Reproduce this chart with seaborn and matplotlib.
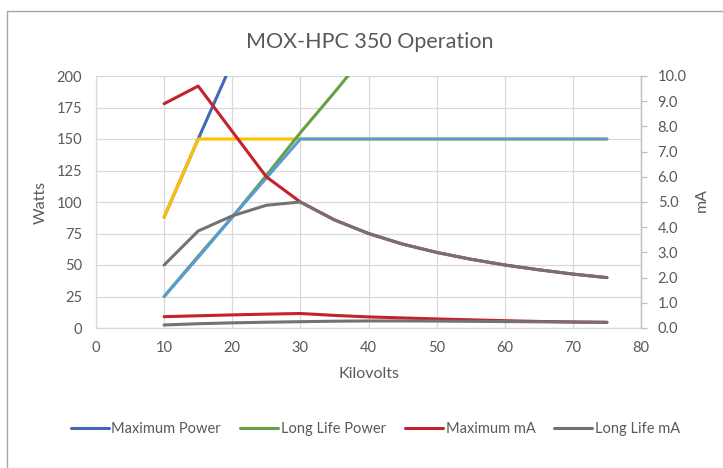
import numpy as np
import matplotlib
matplotlib.use("Agg")
import matplotlib.pyplot as plt
import seaborn as sns
from matplotlib.patches import Rectangle

# ---------------- data ----------------
kv = [10, 15, 20, 25, 30, 35, 40, 45, 50, 55, 60, 65, 70, 75]

# primary axis (Watts)
max_power_kv = [10, 15, 20]
max_power = [88, 150, 211]                      # Maximum Power (runs off the top)
max_power_capped = [88, 150, 150, 150, 150, 150, 150, 150, 150, 150, 150, 150, 150, 150]
long_life_power_kv = [10, 15, 20, 25, 30, 35, 40]
long_life_power = [25, 57, 88, 121, 155, 187, 220]   # Long Life Power (runs off the top)
long_life_capped = [25, 56, 88, 119, 150, 150, 150, 150, 150, 150, 150, 150, 150, 150]
low_red = [9.0, 9.7, 10.4, 11.0, 11.5, 10.0, 8.8, 8.0, 7.2, 6.5, 5.8, 5.2, 4.8, 4.5]
low_gray = [2.4, 3.4, 4.1, 4.6, 5.0, 5.4, 5.6, 5.6, 5.5, 5.3, 5.1, 4.9, 4.7, 4.5]

# secondary axis (mA)
max_ma = [8.9, 9.6, 7.8, 6.0, 5.0, 4.29, 3.75, 3.33, 3.0, 2.73, 2.5, 2.31, 2.14, 2.0]
long_life_ma = [2.5, 3.85, 4.45, 4.87, 5.0, 4.29, 3.75, 3.33, 3.0, 2.73, 2.5, 2.31, 2.14, 2.0]

x_ticks = [0, 10, 20, 30, 40, 50, 60, 70, 80]
w_ticks = [0, 25, 50, 75, 100, 125, 150, 175, 200]
ma_ticks = [0, 1, 2, 3, 4, 5, 6, 7, 8, 9, 10]

title = "MOX-HPC 350 Operation"

# ---------------- style ----------------
sns.set_style("white")
plt.rcParams['font.family'] = ['Lato', 'DejaVu Sans']
TXT = "#595959"
GRID = "#D9D9D9"
C_BLUE = "#4069B9"
C_GREEN = "#65A142"
C_RED = "#C4212B"
C_GRAY = "#767171"
C_YEL = "#FFC000"
C_LBLUE = "#5B9BD5"
LW = 2.2

W, H = 723, 468
fig = plt.figure(figsize=(W / 100, H / 100), dpi=100)
fig.patch.set_facecolor("white")
L, R, T, B = 96, 641, 76, 328
ax = fig.add_axes([L / W, 1 - B / H, (R - L) / W, (B - T) / H])
ax2 = ax.twinx()

# primary axis lines
sns.lineplot(x=max_power_kv, y=max_power, ax=ax, color=C_BLUE, lw=LW, label="Maximum Power")
sns.lineplot(x=kv, y=max_power_capped, ax=ax, color=C_YEL, lw=LW, legend=False)
sns.lineplot(x=long_life_power_kv, y=long_life_power, ax=ax, color=C_GREEN, lw=LW, label="Long Life Power")
sns.lineplot(x=kv, y=long_life_capped, ax=ax, color=C_LBLUE, lw=LW, legend=False)
sns.lineplot(x=kv, y=low_red, ax=ax, color=C_RED, lw=LW, legend=False)
sns.lineplot(x=kv, y=low_gray, ax=ax, color=C_GRAY, lw=LW, legend=False)

# secondary axis lines
sns.lineplot(x=kv, y=max_ma, ax=ax2, color=C_RED, lw=LW, label="Maximum mA")
sns.lineplot(x=kv, y=long_life_ma, ax=ax2, color=C_GRAY, lw=LW, label="Long Life mA")

for a in (ax, ax2):
    if a.get_legend() is not None:
        a.get_legend().remove()

ax.set_xlim(0, 80)
ax.set_ylim(0, 200)
ax2.set_ylim(0, 10)
ax.set_xticks(x_ticks)
ax.set_yticks(w_ticks)
ax2.set_yticks(ma_ticks)
ax2.set_yticklabels([f"{v:.1f}" for v in ma_ticks])
ax.set_xticklabels([str(v) for v in x_ticks])
ax.set_yticklabels([str(v) for v in w_ticks])

ax.grid(True, color=GRID, lw=0.9)
ax.set_axisbelow(True)
ax2.grid(False)
for a in (ax, ax2):
    for s in a.spines.values():
        s.set_color(GRID)
        s.set_linewidth(0.9)
    a.spines['top'].set_visible(False)
ax2.spines['right'].set_color("#BFBFBF")
ax2.spines['left'].set_visible(False)
ax2.spines['bottom'].set_visible(False)

FS = 10.5
ax.tick_params(axis='x', length=0, pad=9, labelsize=FS, labelcolor=TXT)
ax.tick_params(axis='y', length=0, pad=10, labelsize=FS, labelcolor=TXT)
ax2.tick_params(axis='y', length=4, width=0.9, color="#BFBFBF", direction='out', pad=8,
                labelsize=FS, labelcolor=TXT)
ax.set_xlabel("")
ax.set_ylabel("")
ax2.set_ylabel("")

fig.text(370 / W, 1 - 48 / H, title, ha='center', va='baseline', fontsize=15.5, color=TXT)
fig.text(41 / W, 1 - 202 / H, "Watts", ha='center', va='center', rotation=90, fontsize=11.5, color=TXT)
fig.text(702 / W, 1 - 200 / H, "mA", ha='center', va='center', rotation=90, fontsize=11.5, color=TXT)
fig.text(368.5 / W, 1 - 374 / H, "Kilovolts", ha='center', va='center', fontsize=11.5, color=TXT)

h1, l1 = ax.get_legend_handles_labels()
h2, l2 = ax2.get_legend_handles_labels()
fig.legend(h1 + h2, l1 + l2, loc='center', bbox_to_anchor=(375.5 / W, 1 - 429 / H), ncol=4,
           frameon=False, fontsize=FS, labelcolor=TXT, handlelength=2.6, handletextpad=0.2,
           columnspacing=1.3)

# chart-area border (only top and left edges are visible in the crop)
fig.add_artist(Rectangle((7 / W, -0.2), 1.5, 1 - 11 / H + 0.2, transform=fig.transFigure,
                         fill=False, edgecolor="#A6A6A6", lw=1.0))

fig.savefig("out.png", dpi=100, facecolor="white")
